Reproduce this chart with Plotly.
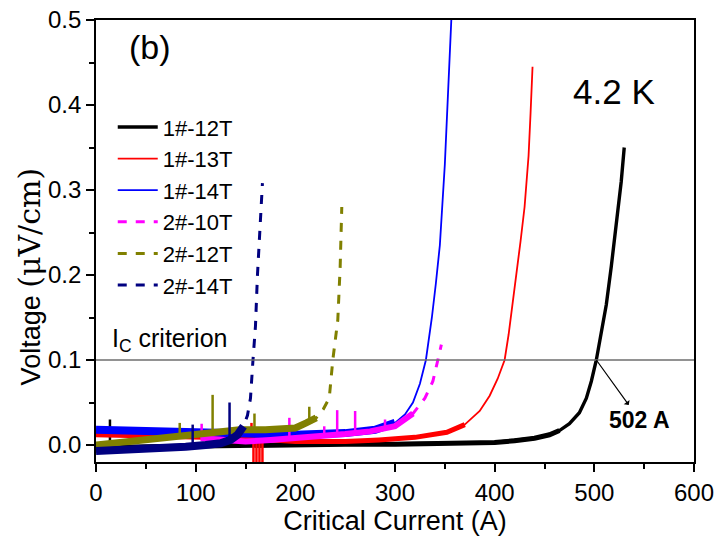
import plotly.graph_objects as go

# ---------------- data ----------------
# Critical current (A) and voltage (uV/cm)
I_1_12T = [0, 50, 100, 150, 200, 250, 300, 350, 400, 420, 440, 455, 465, 475, 485, 492, 497, 502, 507, 512, 517, 522, 527, 530]
V_1_12T = [-0.003, -0.002, -0.001, 0.000, 0.001, 0.001, 0.001, 0.002, 0.003, 0.005, 0.008, 0.012, 0.017, 0.025, 0.038, 0.055, 0.075, 0.100, 0.130, 0.165, 0.210, 0.260, 0.310, 0.350]

I_1_13T = [0, 50, 100, 150, 200, 250, 284, 320, 352, 370, 385, 395, 403, 410, 414, 418, 422, 426, 430, 434, 436, 438]
V_1_13T = [0.012, 0.011, 0.010, 0.008, 0.004, 0.004, 0.006, 0.009, 0.015, 0.024, 0.040, 0.058, 0.078, 0.100, 0.130, 0.165, 0.200, 0.240, 0.280, 0.340, 0.390, 0.445]

I_1_14T = [0, 50, 100, 140, 200, 250, 280, 300, 310, 318, 325, 331, 337, 341, 345, 350, 353, 356.5]
V_1_14T = [0.018, 0.017, 0.016, 0.014, 0.012, 0.014, 0.018, 0.026, 0.036, 0.050, 0.072, 0.100, 0.150, 0.190, 0.235, 0.330, 0.406, 0.500]

I_2_10T = [105, 130, 150, 175, 200, 225, 250, 275, 300, 318, 330, 338, 343, 346.5]
V_2_10T = [0.008, 0.006, 0.004, 0.006, 0.008, 0.010, 0.013, 0.016, 0.022, 0.037, 0.055, 0.075, 0.100, 0.118]

I_2_12T = [0, 30, 60, 94, 120, 144, 170, 200, 211, 221, 228, 234, 237.6, 240, 242.6, 245, 246.6]
V_2_12T = [0.000, 0.004, 0.008, 0.012, 0.015, 0.018, 0.018, 0.020, 0.026, 0.032, 0.042, 0.055, 0.100, 0.120, 0.147, 0.210, 0.280]

I_2_14T = [0, 30, 60, 90, 110, 125, 135, 142, 148, 152, 155, 157.5, 160, 162, 164, 166, 167]
V_2_14T = [-0.007, -0.006, -0.004, -0.002, 0.000, 0.002, 0.006, 0.012, 0.022, 0.035, 0.055, 0.100, 0.140, 0.200, 0.250, 0.290, 0.308]

# noise spikes (current, low voltage, high voltage)
SPK_BLACK = [(14, 0.0, 0.03)]
SPK_RED = [(156, 0.008, 0.026), (158, 0.004, -0.02), (161, 0.004, -0.02), (164, 0.004, -0.02), (167, 0.004, -0.02)]
SPK_MAG = [(106, 0.008, 0.025), (194, 0.008, 0.032), (229, 0.010, 0.022), (242, 0.012, 0.041), (260, 0.014, 0.040), (290, 0.020, 0.030)]
SPK_OLIVE = [(84, 0.010, 0.026), (117, 0.015, 0.059), (159, 0.018, 0.037), (214, 0.028, 0.045)]
SPK_NAVY = [(97, -0.002, 0.024), (134, 0.004, 0.050)]

# noisy-band extent (upper current of the thick low-voltage band)
BAND_END = {"1#-12T": 470, "1#-13T": 370, "1#-14T": 300, "2#-10T": 318, "2#-12T": 221, "2#-14T": 148}

IC_CRITERION = 0.1
IC_VALUE = 502

X_TICKS = [0, 100, 200, 300, 400, 500, 600]
Y_TICKS = [0.0, 0.1, 0.2, 0.3, 0.4, 0.5]

SANS = "Arial, 'Liberation Sans', sans-serif"

series = [
    ("1#-12T", I_1_12T, V_1_12T, "#000000", "solid", 3.4, 5, SPK_BLACK),
    ("1#-13T", I_1_13T, V_1_13T, "#ff0000", "solid", 1.8, 5, SPK_RED),
    ("1#-14T", I_1_14T, V_1_14T, "#0000ff", "solid", 1.8, 8, []),
    ("2#-10T", I_2_10T, V_2_10T, "#ff00ff", "dash", 3.0, 6, SPK_MAG),
    ("2#-12T", I_2_12T, V_2_12T, "#808000", "dash", 3.0, 7, SPK_OLIVE),
    ("2#-14T", I_2_14T, V_2_14T, "#000080", "dash", 3.0, 8, SPK_NAVY),
]

fig = go.Figure()

for name, xs, ys, col, dash, w, bw, spk in series:
    end = BAND_END[name]
    bx = [x for x in xs if x <= end]
    by = [y for x, y in zip(xs, ys) if x <= end]
    fig.add_trace(go.Scatter(x=bx, y=by, mode="lines", line=dict(color=col, width=bw),
                             showlegend=False, hoverinfo="skip"))
    if spk:
        sx, sy = [], []
        for a, lo, hi in spk:
            sx += [a, a, None]
            sy += [lo, hi, None]
        fig.add_trace(go.Scatter(x=sx, y=sy, mode="lines", line=dict(color=col, width=2.5),
                                 showlegend=False, hoverinfo="skip"))
    fig.add_trace(go.Scatter(x=xs, y=ys, mode="lines", name=name,
                             line=dict(color=col, width=w, dash=dash)))

# Ic criterion line
fig.add_shape(type="line", xref="paper", x0=0, x1=1, yref="y", y0=IC_CRITERION, y1=IC_CRITERION,
              line=dict(color="#6e6e6e", width=1.5))

# arrow from the criterion crossing to the label
fig.add_annotation(x=IC_VALUE, y=IC_CRITERION, ax=545, ay=0.03, axref="x", ayref="y",
                   xref="x", yref="y", text="<b>502 A</b>", showarrow=True, arrowhead=2,
                   arrowside="start", arrowsize=1.2, arrowwidth=1.2, arrowcolor="#000000",
                   standoff=0, startstandoff=0,
                   font=dict(family=SANS, size=23, color="#000000"))
fig.add_annotation(x=54, y=0.468, xref="x", yref="y", text="(b)", showarrow=False,
                   font=dict(family=SANS, size=34, color="#000000"))
fig.add_annotation(x=520, y=0.416, xref="x", yref="y", text="4.2 K", showarrow=False,
                   font=dict(family=SANS, size=35, color="#000000"))
fig.add_annotation(x=14, y=0.124, xref="x", yref="y", xanchor="left", text="I<sub>C</sub> criterion",
                   showarrow=False, font=dict(family=SANS, size=25, color="#000000"))

# y-axis title as annotation
fig.add_annotation(x=-0.112, y=0.42, xref="paper", yref="paper", xanchor="center", yanchor="middle",
                   textangle=-90, showarrow=False,
                   text="Voltage <span style=\"font-family:'DejaVu Serif';font-size:30px\">(μV/cm)</span>",
                   font=dict(family=SANS, size=27, color="#000000"))

axis_common = dict(showgrid=False, zeroline=False, linecolor="#000000", linewidth=1.8,
                   tickcolor="#000000", tickwidth=1.5, automargin=False)

fig.update_layout(
    width=718, height=537,
    margin=dict(l=96, r=24, t=20, b=75, autoexpand=False),
    paper_bgcolor="white", plot_bgcolor="white",
    font=dict(family=SANS, size=24, color="#000000"),
    xaxis=dict(range=[0, 600], tickmode="array", tickvals=X_TICKS, ticks="outside", ticklen=8,
               mirror=True, showline=True,
               minor=dict(tickmode="linear", dtick=50, ticks="outside", ticklen=5, tickcolor="#000000", tickwidth=1.5),
               title=dict(text="Critical Current (A)", font=dict(family=SANS, size=27), standoff=6),
               tickfont=dict(family=SANS, size=24), **axis_common),
    yaxis=dict(range=[-0.02, 0.5], tickmode="array", tickvals=Y_TICKS, tickformat=".1f",
               ticks="outside", ticklen=8, mirror=True, showline=True,
               minor=dict(tickmode="linear", dtick=0.05, ticks="outside", ticklen=5, tickcolor="#000000", tickwidth=1.5),
               tickfont=dict(family=SANS, size=24), **axis_common),
    xaxis2=dict(range=[0, 600], overlaying="x", side="top", anchor="y", tickmode="linear", tick0=0, dtick=50,
                ticks="inside", ticklen=7, showticklabels=False, showline=False, showgrid=False,
                zeroline=False, tickcolor="#000000", tickwidth=1.5, automargin=False),
    yaxis2=dict(range=[-0.02, 0.5], overlaying="y", side="right", anchor="x", tickmode="linear", tick0=0, dtick=0.05,
                ticks="inside", ticklen=7, showticklabels=False, showline=False, showgrid=False,
                zeroline=False, tickcolor="#000000", tickwidth=1.5, automargin=False),
    legend=dict(x=0.028, y=0.805, xanchor="left", yanchor="top", bgcolor="rgba(0,0,0,0)",
                font=dict(family=SANS, size=22), tracegroupgap=0, itemwidth=40),
    showlegend=True,
)

fig.write_html("out.html")
